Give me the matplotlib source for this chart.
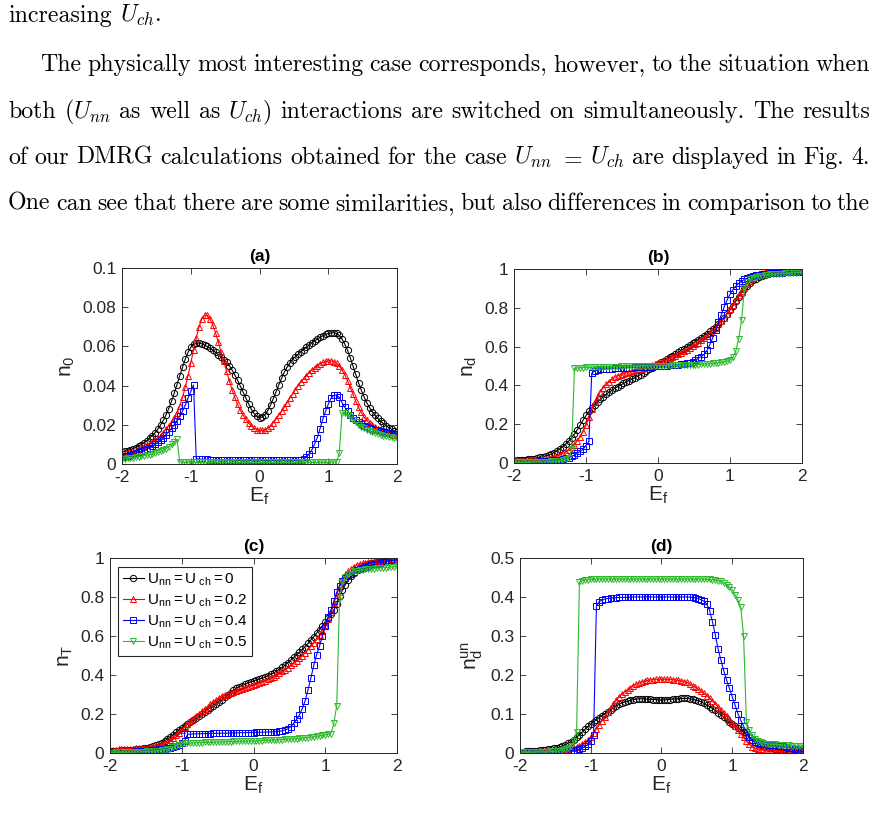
import numpy as np
import matplotlib
matplotlib.use('Agg')
import matplotlib.pyplot as plt

# E_f grid (step 0.04)
Ef = np.linspace(-2, 2, 101)

# ---- panel (a): n_0 ----
a_u0 = [0.0060, 0.0064, 0.0068, 0.0073, 0.0078, 0.0084, 0.0091, 0.0099, 0.0108, 0.0119,
        0.0132, 0.0145, 0.0160, 0.0178, 0.0198, 0.0222, 0.0250, 0.0283, 0.0320, 0.0362,
        0.0405, 0.0450, 0.0493, 0.0535, 0.0570, 0.0595, 0.0610, 0.0617, 0.0617, 0.0613,
        0.0607, 0.0600, 0.0591, 0.0581, 0.0570, 0.0558, 0.0545, 0.0532, 0.0518, 0.0502,
        0.0480, 0.0455, 0.0428, 0.0398, 0.0368, 0.0338, 0.0308, 0.0280, 0.0258, 0.0243,
        0.0235, 0.0240, 0.0252, 0.0272, 0.0300, 0.0333, 0.0368, 0.0403, 0.0437, 0.0467,
        0.0493, 0.0515, 0.0533, 0.0548, 0.0561, 0.0573, 0.0584, 0.0595, 0.0606, 0.0617,
        0.0627, 0.0637, 0.0646, 0.0654, 0.0661, 0.0666, 0.0669, 0.0670, 0.0666, 0.0656,
        0.0638, 0.0612, 0.0580, 0.0542, 0.0500, 0.0457, 0.0415, 0.0377, 0.0343, 0.0313,
        0.0288, 0.0267, 0.0249, 0.0233, 0.0219, 0.0207, 0.0196, 0.0186, 0.0177, 0.0169,
        0.0162]
a_u02 = [0.0046, 0.0050, 0.0054, 0.0058, 0.0063, 0.0068, 0.0074, 0.0080, 0.0087, 0.0095,
         0.0103, 0.0112, 0.0122, 0.0133, 0.0145, 0.0160, 0.0177, 0.0195, 0.0214, 0.0235,
         0.0262, 0.0297, 0.0340, 0.0392, 0.0450, 0.0515, 0.0580, 0.0643, 0.0698, 0.0740,
         0.0760, 0.0758, 0.0740, 0.0710, 0.0670, 0.0623, 0.0573, 0.0523, 0.0473, 0.0425,
         0.0380, 0.0340, 0.0305, 0.0275, 0.0250, 0.0228, 0.0210, 0.0195, 0.0184, 0.0176,
         0.0171, 0.0171, 0.0175, 0.0183, 0.0195, 0.0210, 0.0228, 0.0248, 0.0268, 0.0290,
         0.0312, 0.0335, 0.0357, 0.0378, 0.0398, 0.0417, 0.0435, 0.0451, 0.0466, 0.0480,
         0.0492, 0.0502, 0.0511, 0.0518, 0.0523, 0.0526, 0.0526, 0.0522, 0.0514, 0.0500,
         0.0480, 0.0455, 0.0425, 0.0390, 0.0355, 0.0320, 0.0290, 0.0263, 0.0240, 0.0222,
         0.0208, 0.0197, 0.0188, 0.0180, 0.0173, 0.0167, 0.0162, 0.0157, 0.0153, 0.0150,
         0.0147]
a_u04 = [0.0037, 0.0040, 0.0043, 0.0047, 0.0051, 0.0055, 0.0060, 0.0065, 0.0070, 0.0076,
         0.0084, 0.0092, 0.0101, 0.0111, 0.0122, 0.0135, 0.0150, 0.0165, 0.0182, 0.0200,
         0.0220, 0.0243, 0.0270, 0.0300, 0.0335, 0.0370, 0.0403, 0.0028, 0.0025, 0.0024,
         0.0023, 0.0023, 0.0022, 0.0022, 0.0022, 0.0021, 0.0021, 0.0021, 0.0020, 0.0020,
         0.0020, 0.0020, 0.0019, 0.0019, 0.0019, 0.0019, 0.0019, 0.0018, 0.0018, 0.0018,
         0.0018, 0.0018, 0.0018, 0.0018, 0.0018, 0.0018, 0.0018, 0.0018, 0.0018, 0.0018,
         0.0018, 0.0018, 0.0018, 0.0018, 0.0019, 0.0020, 0.0024, 0.0035, 0.0050, 0.0071,
         0.0100, 0.0135, 0.0180, 0.0228, 0.0268, 0.0305, 0.0335, 0.0350, 0.0352, 0.0340,
         0.0313, 0.0290, 0.0270, 0.0252, 0.0237, 0.0223, 0.0212, 0.0203, 0.0196, 0.0190,
         0.0184, 0.0179, 0.0175, 0.0171, 0.0167, 0.0163, 0.0160, 0.0157, 0.0155, 0.0153,
         0.0151]
a_u05 = [0.0025, 0.0027, 0.0029, 0.0031, 0.0033, 0.0035, 0.0037, 0.0039, 0.0042, 0.0045,
         0.0048, 0.0051, 0.0055, 0.0059, 0.0064, 0.0070, 0.0078, 0.0088, 0.0100, 0.0114,
         0.0126, 0.0012, 0.0010, 0.0009, 0.0009, 0.0009, 0.0008, 0.0008, 0.0008, 0.0008,
         0.0008, 0.0008, 0.0008, 0.0008, 0.0008, 0.0008, 0.0008, 0.0008, 0.0008, 0.0008,
         0.0008, 0.0008, 0.0008, 0.0008, 0.0008, 0.0008, 0.0008, 0.0008, 0.0008, 0.0008,
         0.0008, 0.0008, 0.0008, 0.0008, 0.0008, 0.0008, 0.0008, 0.0008, 0.0008, 0.0008,
         0.0008, 0.0008, 0.0008, 0.0008, 0.0008, 0.0008, 0.0008, 0.0008, 0.0008, 0.0008,
         0.0008, 0.0008, 0.0008, 0.0008, 0.0009, 0.0009, 0.0009, 0.0010, 0.0012, 0.0054,
         0.0262, 0.0258, 0.0250, 0.0240, 0.0225, 0.0212, 0.0200, 0.0190, 0.0182, 0.0175,
         0.0168, 0.0162, 0.0157, 0.0153, 0.0149, 0.0145, 0.0142, 0.0139, 0.0136, 0.0134,
         0.0132]

# ---- panel (b): n_d ----
b_u0 = [0.012, 0.013, 0.014, 0.015, 0.017, 0.019, 0.021, 0.023, 0.026, 0.029,
        0.032, 0.036, 0.041, 0.047, 0.054, 0.063, 0.073, 0.085, 0.098, 0.113,
        0.130, 0.150, 0.172, 0.196, 0.221, 0.245, 0.266, 0.284, 0.300, 0.315,
        0.329, 0.342, 0.354, 0.365, 0.375, 0.385, 0.394, 0.402, 0.410, 0.417,
        0.425, 0.432, 0.440, 0.448, 0.456, 0.464, 0.473, 0.482, 0.492, 0.501,
        0.510, 0.519, 0.528, 0.537, 0.546, 0.554, 0.562, 0.571, 0.580, 0.589,
        0.598, 0.607, 0.616, 0.626, 0.636, 0.646, 0.656, 0.667, 0.678, 0.690,
        0.703, 0.717, 0.733, 0.750, 0.768, 0.788, 0.810, 0.833, 0.856, 0.878,
        0.897, 0.914, 0.929, 0.941, 0.951, 0.959, 0.965, 0.970, 0.974, 0.977,
        0.980, 0.982, 0.984, 0.985, 0.986, 0.987, 0.988, 0.989, 0.990, 0.990,
        0.991]
b_u02 = [0.007, 0.008, 0.009, 0.010, 0.011, 0.012, 0.013, 0.014, 0.016, 0.018,
         0.020, 0.022, 0.025, 0.028, 0.032, 0.037, 0.043, 0.050, 0.058, 0.068,
         0.080, 0.095, 0.114, 0.136, 0.162, 0.195, 0.235, 0.277, 0.315, 0.345,
         0.368, 0.388, 0.405, 0.420, 0.432, 0.442, 0.450, 0.456, 0.461, 0.466,
         0.470, 0.474, 0.478, 0.482, 0.486, 0.490, 0.494, 0.499, 0.504, 0.509,
         0.514, 0.520, 0.526, 0.532, 0.539, 0.546, 0.553, 0.560, 0.567, 0.575,
         0.583, 0.592, 0.601, 0.611, 0.621, 0.632, 0.644, 0.656, 0.669, 0.683,
         0.698, 0.714, 0.731, 0.750, 0.770, 0.792, 0.816, 0.841, 0.865, 0.887,
         0.907, 0.925, 0.940, 0.953, 0.964, 0.973, 0.980, 0.985, 0.989, 0.992,
         0.994, 0.995, 0.996, 0.997, 0.997, 0.998, 0.998, 0.998, 0.999, 0.999,
         0.999]
b_u04 = [0.003, 0.003, 0.004, 0.004, 0.005, 0.005, 0.006, 0.006, 0.007, 0.008,
         0.009, 0.010, 0.011, 0.012, 0.014, 0.016, 0.018, 0.021, 0.024, 0.028,
         0.034, 0.041, 0.050, 0.060, 0.072, 0.090, 0.111, 0.463, 0.474, 0.479,
         0.482, 0.484, 0.485, 0.486, 0.487, 0.488, 0.489, 0.490, 0.490, 0.491,
         0.492, 0.492, 0.493, 0.494, 0.494, 0.495, 0.496, 0.497, 0.497, 0.498,
         0.499, 0.500, 0.501, 0.502, 0.503, 0.504, 0.505, 0.507, 0.509, 0.511,
         0.514, 0.518, 0.523, 0.530, 0.540, 0.548, 0.560, 0.580, 0.610, 0.645,
         0.685, 0.725, 0.765, 0.805, 0.840, 0.870, 0.893, 0.912, 0.926, 0.937,
         0.946, 0.953, 0.959, 0.963, 0.967, 0.970, 0.972, 0.974, 0.976, 0.977,
         0.978, 0.979, 0.980, 0.981, 0.982, 0.983, 0.984, 0.985, 0.986, 0.987,
         0.988]
b_u05 = [0.003, 0.003, 0.003, 0.004, 0.004, 0.004, 0.005, 0.005, 0.005, 0.006,
         0.006, 0.007, 0.007, 0.008, 0.009, 0.010, 0.012, 0.015, 0.019, 0.025,
         0.070, 0.488, 0.490, 0.491, 0.492, 0.493, 0.493, 0.494, 0.494, 0.495,
         0.495, 0.496, 0.496, 0.496, 0.497, 0.497, 0.497, 0.498, 0.498, 0.498,
         0.498, 0.499, 0.499, 0.499, 0.500, 0.500, 0.500, 0.500, 0.501, 0.501,
         0.501, 0.501, 0.502, 0.502, 0.502, 0.503, 0.503, 0.503, 0.504, 0.504,
         0.505, 0.505, 0.506, 0.506, 0.507, 0.508, 0.509, 0.510, 0.511, 0.513,
         0.515, 0.517, 0.519, 0.521, 0.524, 0.530, 0.545, 0.575, 0.640, 0.735,
         0.900, 0.935, 0.948, 0.955, 0.960, 0.963, 0.966, 0.968, 0.970, 0.972,
         0.973, 0.974, 0.975, 0.976, 0.977, 0.978, 0.979, 0.980, 0.981, 0.982,
         0.983]

# ---- panel (c): n_T ----
c_u0 = [0.009, 0.010, 0.011, 0.012, 0.013, 0.014, 0.015, 0.016, 0.017, 0.019,
        0.020, 0.022, 0.024, 0.027, 0.030, 0.034, 0.039, 0.045, 0.052, 0.062,
        0.072, 0.082, 0.094, 0.106, 0.118, 0.129, 0.140, 0.150, 0.160, 0.169,
        0.179, 0.189, 0.200, 0.211, 0.222, 0.232, 0.243, 0.253, 0.263, 0.274,
        0.285, 0.297, 0.309, 0.321, 0.331, 0.339, 0.346, 0.352, 0.358, 0.364,
        0.370, 0.375, 0.379, 0.383, 0.388, 0.396, 0.403, 0.411, 0.419, 0.428,
        0.439, 0.451, 0.464, 0.477, 0.490, 0.503, 0.517, 0.531, 0.545, 0.562,
        0.580, 0.597, 0.615, 0.633, 0.653, 0.673, 0.692, 0.712, 0.734, 0.765,
        0.803, 0.836, 0.864, 0.889, 0.909, 0.925, 0.938, 0.949, 0.957, 0.964,
        0.969, 0.973, 0.976, 0.979, 0.981, 0.983, 0.985, 0.987, 0.989, 0.991,
        0.993]
c_u02 = [0.015, 0.016, 0.017, 0.018, 0.019, 0.020, 0.021, 0.022, 0.023, 0.024,
         0.025, 0.026, 0.027, 0.028, 0.030, 0.032, 0.035, 0.039, 0.044, 0.050,
         0.057, 0.066, 0.078, 0.091, 0.105, 0.120, 0.134, 0.148, 0.162, 0.175,
         0.188, 0.201, 0.214, 0.226, 0.238, 0.250, 0.261, 0.271, 0.281, 0.290,
         0.297, 0.303, 0.308, 0.313, 0.318, 0.323, 0.328, 0.333, 0.338, 0.343,
         0.348, 0.353, 0.358, 0.364, 0.370, 0.377, 0.384, 0.392, 0.400, 0.409,
         0.418, 0.428, 0.438, 0.449, 0.460, 0.472, 0.485, 0.499, 0.514, 0.530,
         0.547, 0.565, 0.584, 0.604, 0.628, 0.656, 0.687, 0.724, 0.768, 0.812,
         0.854, 0.888, 0.914, 0.933, 0.946, 0.956, 0.963, 0.969, 0.973, 0.976,
         0.979, 0.981, 0.983, 0.985, 0.987, 0.988, 0.990, 0.991, 0.993, 0.994,
         0.996]
c_u04 = [0.003, 0.003, 0.004, 0.004, 0.005, 0.005, 0.006, 0.006, 0.007, 0.008,
         0.009, 0.010, 0.011, 0.012, 0.013, 0.015, 0.016, 0.018, 0.020, 0.022,
         0.024, 0.027, 0.030, 0.034, 0.040, 0.050, 0.062, 0.095, 0.097, 0.098,
         0.098, 0.099, 0.099, 0.100, 0.100, 0.100, 0.101, 0.101, 0.101, 0.102,
         0.102, 0.102, 0.103, 0.103, 0.103, 0.104, 0.104, 0.104, 0.105, 0.105,
         0.105, 0.106, 0.106, 0.107, 0.107, 0.108, 0.108, 0.109, 0.110, 0.111,
         0.114, 0.118, 0.124, 0.135, 0.152, 0.172, 0.195, 0.228, 0.268, 0.325,
         0.385, 0.450, 0.505, 0.548, 0.600, 0.650, 0.698, 0.735, 0.780, 0.825,
         0.855, 0.880, 0.897, 0.910, 0.920, 0.930, 0.937, 0.943, 0.948, 0.953,
         0.958, 0.963, 0.967, 0.971, 0.975, 0.978, 0.981, 0.984, 0.986, 0.988,
         0.990]
c_u05 = [0.002, 0.002, 0.003, 0.003, 0.003, 0.004, 0.004, 0.004, 0.005, 0.005,
         0.006, 0.006, 0.007, 0.008, 0.009, 0.010, 0.011, 0.012, 0.014, 0.016,
         0.019, 0.023, 0.030, 0.037, 0.043, 0.047, 0.049, 0.050, 0.051, 0.052,
         0.052, 0.053, 0.053, 0.054, 0.054, 0.055, 0.055, 0.056, 0.056, 0.057,
         0.057, 0.058, 0.058, 0.059, 0.059, 0.060, 0.060, 0.061, 0.061, 0.062,
         0.062, 0.063, 0.063, 0.064, 0.065, 0.065, 0.066, 0.067, 0.067, 0.068,
         0.069, 0.070, 0.071, 0.072, 0.073, 0.074, 0.075, 0.076, 0.078, 0.079,
         0.081, 0.083, 0.085, 0.088, 0.090, 0.093, 0.096, 0.100, 0.152, 0.243,
         0.795, 0.875, 0.905, 0.918, 0.926, 0.931, 0.935, 0.938, 0.940, 0.942,
         0.944, 0.945, 0.946, 0.947, 0.949, 0.950, 0.951, 0.952, 0.954, 0.955,
         0.957]

# ---- panel (d): n_d^un ----
d_u0 = [0.003, 0.003, 0.004, 0.004, 0.005, 0.005, 0.006, 0.007, 0.007, 0.008,
        0.009, 0.010, 0.012, 0.013, 0.015, 0.018, 0.021, 0.025, 0.029, 0.034,
        0.040, 0.047, 0.054, 0.061, 0.068, 0.074, 0.080, 0.085, 0.091, 0.096,
        0.101, 0.106, 0.111, 0.116, 0.121, 0.125, 0.128, 0.131, 0.133, 0.135,
        0.137, 0.138, 0.139, 0.139, 0.139, 0.138, 0.138, 0.137, 0.137, 0.136,
        0.136, 0.136, 0.137, 0.137, 0.138, 0.139, 0.139, 0.140, 0.140, 0.140,
        0.139, 0.138, 0.136, 0.134, 0.131, 0.127, 0.123, 0.119, 0.114, 0.109,
        0.103, 0.098, 0.092, 0.086, 0.080, 0.075, 0.070, 0.065, 0.060, 0.054,
        0.047, 0.040, 0.034, 0.029, 0.024, 0.020, 0.017, 0.015, 0.013, 0.012,
        0.011, 0.010, 0.010, 0.009, 0.009, 0.008, 0.008, 0.008, 0.007, 0.007,
        0.007]
d_u02 = [0.002, 0.002, 0.002, 0.002, 0.003, 0.003, 0.003, 0.003, 0.004, 0.004,
         0.004, 0.005, 0.005, 0.006, 0.007, 0.008, 0.009, 0.010, 0.012, 0.013,
         0.015, 0.018, 0.022, 0.027, 0.033, 0.041, 0.051, 0.062, 0.072, 0.083,
         0.093, 0.104, 0.115, 0.125, 0.135, 0.144, 0.151, 0.157, 0.162, 0.167,
         0.172, 0.176, 0.179, 0.182, 0.184, 0.186, 0.187, 0.188, 0.189, 0.189,
         0.189, 0.189, 0.189, 0.189, 0.188, 0.187, 0.186, 0.185, 0.183, 0.181,
         0.177, 0.173, 0.169, 0.164, 0.159, 0.153, 0.147, 0.140, 0.133, 0.126,
         0.118, 0.110, 0.102, 0.094, 0.085, 0.077, 0.068, 0.059, 0.050, 0.040,
         0.030, 0.022, 0.016, 0.012, 0.010, 0.009, 0.008, 0.007, 0.007, 0.007,
         0.006, 0.006, 0.006, 0.006, 0.005, 0.005, 0.005, 0.005, 0.005, 0.004,
         0.004]
d_u04 = [0.001, 0.001, 0.001, 0.001, 0.001, 0.002, 0.002, 0.002, 0.002, 0.002,
         0.002, 0.003, 0.003, 0.003, 0.004, 0.004, 0.005, 0.005, 0.006, 0.007,
         0.008, 0.010, 0.013, 0.017, 0.022, 0.030, 0.047, 0.377, 0.388, 0.392,
         0.395, 0.396, 0.397, 0.398, 0.398, 0.399, 0.399, 0.399, 0.399, 0.400,
         0.400, 0.400, 0.400, 0.400, 0.400, 0.400, 0.400, 0.400, 0.400, 0.400,
         0.400, 0.400, 0.400, 0.400, 0.400, 0.400, 0.400, 0.400, 0.400, 0.400,
         0.400, 0.399, 0.398, 0.396, 0.393, 0.389, 0.382, 0.365, 0.337, 0.303,
         0.267, 0.238, 0.211, 0.187, 0.166, 0.144, 0.123, 0.101, 0.084, 0.069,
         0.054, 0.041, 0.033, 0.028, 0.025, 0.024, 0.023, 0.022, 0.021, 0.021,
         0.020, 0.019, 0.018, 0.017, 0.016, 0.014, 0.012, 0.010, 0.008, 0.005,
         0.003]
d_u05 = [0.002, 0.002, 0.002, 0.002, 0.002, 0.002, 0.003, 0.003, 0.003, 0.003,
         0.003, 0.004, 0.004, 0.005, 0.006, 0.008, 0.010, 0.013, 0.017, 0.030,
         0.054, 0.438, 0.441, 0.443, 0.444, 0.445, 0.445, 0.446, 0.446, 0.446,
         0.446, 0.446, 0.446, 0.446, 0.446, 0.446, 0.446, 0.446, 0.446, 0.446,
         0.446, 0.446, 0.446, 0.446, 0.446, 0.446, 0.446, 0.446, 0.446, 0.446,
         0.446, 0.446, 0.446, 0.446, 0.446, 0.446, 0.446, 0.446, 0.446, 0.446,
         0.446, 0.446, 0.446, 0.446, 0.446, 0.446, 0.445, 0.445, 0.444, 0.443,
         0.442, 0.440, 0.436, 0.431, 0.425, 0.419, 0.406, 0.393, 0.374, 0.300,
         0.080, 0.060, 0.045, 0.037, 0.031, 0.028, 0.026, 0.024, 0.023, 0.022,
         0.022, 0.021, 0.021, 0.020, 0.020, 0.020, 0.019, 0.019, 0.018, 0.018,
         0.017]

legend_labels = [r'$\mathregular{U_{nn}{=}U_{\ ch}{=}0}$',
                 r'$\mathregular{U_{nn}{=}U_{\ ch}{=}0.2}$',
                 r'$\mathregular{U_{nn}{=}U_{\ ch}{=}0.4}$',
                 r'$\mathregular{U_{nn}{=}U_{\ ch}{=}0.5}$']

plt.rcParams['font.family'] = ['Liberation Sans', 'DejaVu Sans']
plt.rcParams['mathtext.fontset'] = 'cm'

W, H = 878, 818
fig = plt.figure(figsize=(W / 100, H / 100), dpi=100)
GRAY = '#262626'


def px_axes(left, top, right, bottom):
    return fig.add_axes([left / W, 1 - bottom / H, (right - left) / W, (bottom - top) / H])


def draw_panel(ax, series, ymax, yticks, ylabel, title):
    styles = [('k', 'o'), ('r', '^'), ('b', 's'), ('#2db82d', 'v')]
    for y, (c, m), lab in zip(series, styles, legend_labels):
        ax.plot(Ef, y, '-', color=c, marker=m, mfc='none', mec=c, ms=4.5, mew=0.7,
                lw=0.8, label=lab)
    ax.set_xlim(-2, 2)
    ax.set_ylim(0, ymax)
    ax.set_xticks([-2, -1, 0, 1, 2])
    ax.set_xticklabels(['-2', '-1', '0', '1', '2'])
    ax.set_yticks(yticks)
    ax.set_yticklabels(['%g' % v for v in yticks])
    ax.tick_params(direction='in', top=True, right=True, length=4, width=0.6,
                   colors=GRAY, labelsize=12.5, pad=4)
    for s in ax.spines.values():
        s.set_color(GRAY)
        s.set_linewidth(0.7)
    ax.set_xlabel(r'$\mathregular{E_f}$', fontsize=15, color=GRAY, labelpad=1)
    ax.set_ylabel(ylabel, fontsize=15, color=GRAY, labelpad=4)
    ax.set_title(title, fontweight='bold', fontsize=12.5, pad=5)


ax_a = px_axes(122, 268, 397, 464)
draw_panel(ax_a, [a_u0, a_u02, a_u04, a_u05], 0.1, [0, 0.02, 0.04, 0.06, 0.08, 0.1],
           r'$\mathregular{n_0}$', '(a)')
ax_b = px_axes(514, 269, 802, 463)
draw_panel(ax_b, [b_u0, b_u02, b_u04, b_u05], 1, [0, 0.2, 0.4, 0.6, 0.8, 1],
           r'$\mathregular{n_d}$', '(b)')
ax_c = px_axes(110, 558, 397, 753)
draw_panel(ax_c, [c_u0, c_u02, c_u04, c_u05], 1, [0, 0.2, 0.4, 0.6, 0.8, 1],
           r'$\mathregular{n_T}$', '(c)')
ax_d = px_axes(520, 558, 803, 753)
draw_panel(ax_d, [d_u0, d_u02, d_u04, d_u05], 0.5, [0, 0.1, 0.2, 0.3, 0.4, 0.5],
           r'$\mathregular{n_d^{un}}$', '(d)')

leg = ax_c.legend(loc='upper left', bbox_to_anchor=(8 / 287, 1 - 9 / 195), borderaxespad=0,
                  fontsize=11, handlelength=1.4, handletextpad=0.2, labelspacing=0.3,
                  borderpad=0.3, fancybox=False, framealpha=1, edgecolor=GRAY)
leg.get_frame().set_linewidth(0.8)

# ---- paragraph text above the figure ----
FS = 17.2
lines = [
    ("increasing $U_{ch}$.", 8, None, 22),
    ("The physically most interesting case corresponds, however, to the situation when", 40, 870, 71),
    ("both ($U_{nn}$ as well as $U_{ch}$) interactions are switched on simultaneously.  The results", 8, 870, 118),
    ("of our DMRG calculations obtained for the case $U_{nn}$ $=$ $U_{ch}$ are displayed in Fig. 4.", 8, 870, 164),
    ("One can see that there are some similarities, but also differences in comparison to the", 8, 870, 210),
]
renderer = fig.canvas.get_renderer()
for text, x0, x1, yb in lines:
    words = text.split()
    objs = [fig.text(0, 1 - yb / H, w, fontsize=FS, family='cmr10', math_fontfamily='cm',
                     va='baseline', ha='left') for w in words]
    widths = [t.get_window_extent(renderer).width for t in objs]
    if x1 is None:
        gap = 0.33 * FS * 100 / 72
    else:
        gap = (x1 - x0 - sum(widths)) / (len(words) - 1)
    x = x0
    for t, w in zip(objs, widths):
        t.set_x(x / W)
        x += w + gap

fig.savefig('out.png', dpi=100)
